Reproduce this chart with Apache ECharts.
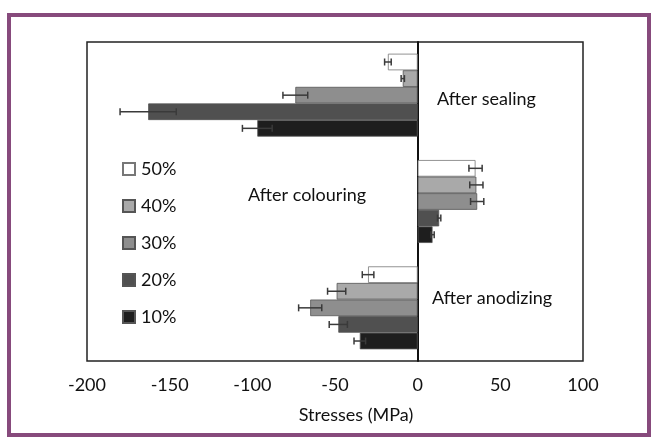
<!DOCTYPE html>
<html>
<head>
<meta charset="utf-8">
<script src="https://cdn.jsdelivr.net/npm/echarts@6/dist/echarts.min.js"></script>
<style>
html, body { margin: 0; padding: 0; background: #fff; }
#chart { width: 656px; height: 439px; }
</style>
</head>
<body>
<div id="chart"></div>
<script>
// categories top to bottom
const categories = ['After sealing', 'After colouring', 'After anodizing'];
const seriesNames = ['50%', '40%', '30%', '20%', '10%'];
const xTicks = [-200, -150, -100, -50, 0, 50, 100];

// stresses (MPa), per category
const stress50 = [-18, 35, -30];
const stress40 = [-9, 35.5, -49];
const stress30 = [-74, 36, -65];
const stress20 = [-163, 13, -48];
const stress10 = [-97, 9, -35];

// error bar half widths
const err50 = [2, 4, 3.5];
const err40 = [1, 4, 5.5];
const err30 = [7.5, 4, 7];
const err20 = [17, 1, 5.5];
const err10 = [9, 1, 3.5];

const stressData = [stress50, stress40, stress30, stress20, stress10];
const errData = [err50, err40, err30, err20, err10];
const barColors = ['#ffffff', '#a9a9a9', '#8e8e8e', '#505050', '#1e1e1e'];
const catGap = 0.22;

const chart = echarts.init(document.getElementById('chart'));
const font = 'Lato, "Open Sans", sans-serif';

function renderErrorBar(params, api) {
  const val = api.value(0);
  const cat = api.value(1);
  const err = api.value(2);
  const k = api.value(3);
  const center = api.coord([val, cat]);
  const band = api.size([0, 1])[1];
  const barW = band * (1 - catGap) / seriesNames.length;
  const y = center[1] - band * (1 - catGap) / 2 + barW * (k + 0.5);
  const x1 = api.coord([val - err, cat])[0];
  const x2 = api.coord([val + err, cat])[0];
  const cap = 3.5;
  const style = { stroke: '#3a3a3a', lineWidth: 1.5 };
  return {
    type: 'group',
    children: [
      { type: 'line', shape: { x1: x1, y1: y, x2: x2, y2: y }, style: style },
      { type: 'line', shape: { x1: x1, y1: y - cap, x2: x1, y2: y + cap }, style: style },
      { type: 'line', shape: { x1: x2, y1: y - cap, x2: x2, y2: y + cap }, style: style }
    ]
  };
}

const errorPoints = [];
errData.forEach((errs, k) => {
  errs.forEach((e, i) => {
    errorPoints.push([stressData[k][i], i, e, k]);
  });
});

const option = {
  animation: false,
  backgroundColor: '#fff',
  graphic: [
    {
      type: 'rect',
      shape: { x: 9, y: 15, width: 640, height: 420 },
      style: { fill: 'none', stroke: '#874a7c', lineWidth: 4 }
    },
    {
      type: 'text', left: 437, top: 90,
      style: { text: 'After sealing', font: '18px ' + font, fill: '#111' }
    },
    {
      type: 'text', left: 248, top: 186,
      style: { text: 'After colouring', font: '18px ' + font, fill: '#111' }
    },
    {
      type: 'text', left: 432, top: 289,
      style: { text: 'After anodizing', font: '18px ' + font, fill: '#111' }
    }
  ],
  grid: {
    left: 87,
    right: 73,
    top: 42,
    bottom: 78,
    show: true,
    borderColor: '#222',
    borderWidth: 1.5
  },
  legend: {
    orient: 'vertical',
    left: 117,
    top: 155,
    itemWidth: 12,
    itemHeight: 12,
    itemGap: 19,
    icon: 'rect',
    data: seriesNames,
    textStyle: { fontFamily: font, fontSize: 18, color: '#111', padding: [0, 0, 0, 1] }
  },
  xAxis: {
    type: 'value',
    min: -200,
    max: 100,
    interval: 50,
    splitLine: { show: false },
    axisLine: { show: false },
    axisTick: { show: false },
    axisLabel: {
      margin: 15,
      fontFamily: font,
      fontSize: 18,
      color: '#111',
      customValues: xTicks
    },
    name: 'Stresses (MPa)',
    nameLocation: 'middle',
    nameGap: 45,
    nameTextStyle: { fontFamily: font, fontSize: 18, color: '#111', padding: [0, 0, 0, 42] }
  },
  yAxis: {
    type: 'category',
    inverse: true,
    data: categories,
    axisLine: { show: true, onZero: true, lineStyle: { color: '#111', width: 2 } },
    axisTick: { show: false },
    axisLabel: { show: false },
    splitLine: { show: false }
  },
  series: seriesNames.map((name, k) => ({
    name: name,
    type: 'bar',
    data: stressData[k],
    barGap: 0,
    barCategoryGap: catGap * 100 + '%',
    itemStyle: {
      color: barColors[k],
      borderColor: k === 0 ? '#777' : '#555',
      borderWidth: 0.8
    },
    z: 2
  })).concat([{
    type: 'custom',
    renderItem: renderErrorBar,
    data: errorPoints,
    encode: { x: 0, y: 1 },
    z: 3
  }])
};

chart.setOption(option);
</script>
</body>
</html>
